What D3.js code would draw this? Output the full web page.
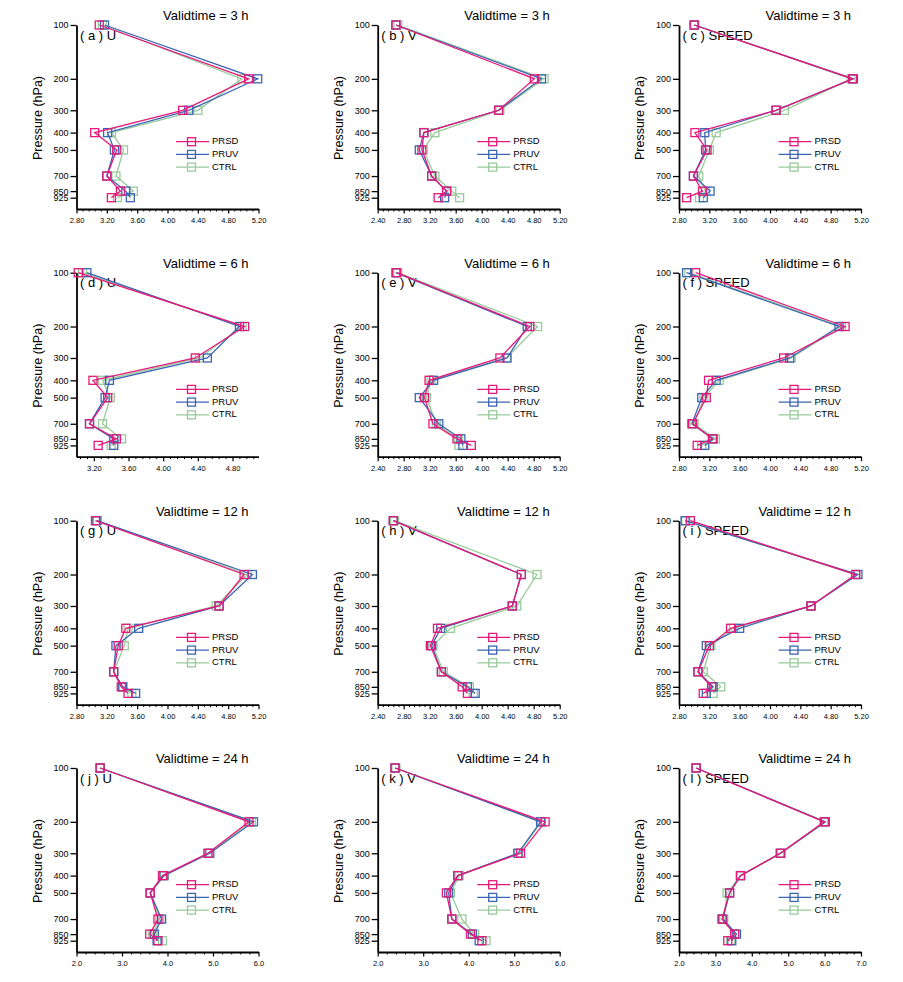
<!DOCTYPE html>
<html>
<head>
<meta charset="utf-8">
<script src="https://cdn.jsdelivr.net/npm/d3@7"></script>
<style>
  body { margin: 0; background: #fff; }
  svg { display: block; }
  text { font-family: "Liberation Sans", Arial, Helvetica, sans-serif; fill: #000; }
</style>
</head>
<body>
<svg id="chart" width="903" height="982"></svg>
<script>
// pressure levels (hPa)
const levels = [100, 200, 300, 400, 500, 700, 850, 925];
const validTimes = [3, 6, 12, 24];
const variables = ["U", "V", "SPEED"];
const letters = ["a", "b", "c", "d", "e", "f", "g", "h", "i", "j", "k", "l"];
const legendNames = ["PRSD", "PRUV", "CTRL"];
const drawOrder = ["CTRL", "PRUV", "PRSD"];
const colors = { PRSD: "#e6197a", PRUV: "#3c65b3", CTRL: "#98cb9a" };

// x tick labels
const ticksA = [2.8, 3.2, 3.6, 4.0, 4.4, 4.8, 5.2];
const ticksB = [2.4, 2.8, 3.2, 3.6, 4.0, 4.4, 4.8, 5.2];
const ticksD = [3.2, 3.6, 4.0, 4.4, 4.8];
const ticksJ = [2, 3, 4, 5, 6];
const ticksL = [2, 3, 4, 5, 6, 7];

// per panel (a..l): axis range, ticks, step between labels
const xDomains = [[2.8, 5.2], [2.4, 5.2], [2.8, 5.2],
                  [3.0, 5.1], [2.4, 5.2], [2.8, 5.2],
                  [2.8, 5.2], [2.4, 5.2], [2.8, 5.2],
                  [2.0, 6.0], [2.0, 6.0], [2.0, 7.0]];
const xTicks = [ticksA, ticksB, ticksA, ticksD, ticksB, ticksA, ticksA, ticksB, ticksA, ticksJ, ticksJ, ticksL];
const tickSteps = [0.4, 0.4, 0.4, 0.4, 0.4, 0.4, 0.4, 0.4, 0.4, 1, 1, 1];

// values at levels 100..925, one object per panel
const U_3h = {
  PRSD: [3.10, 5.07, 4.20, 3.04, 3.33, 3.20, 3.38, 3.26],
  PRUV: [3.17, 5.19, 4.28, 3.21, 3.30, 3.20, 3.45, 3.51],
  CTRL: [3.14, 4.98, 4.40, 3.26, 3.42, 3.32, 3.55, 3.34]
};
const V_3h = {
  PRSD: [2.68, 4.81, 4.26, 3.11, 3.08, 3.23, 3.46, 3.33],
  PRUV: [2.68, 4.92, 4.26, 3.11, 3.04, 3.23, 3.46, 3.43],
  CTRL: [2.71, 4.96, 4.28, 3.28, 3.10, 3.28, 3.54, 3.66]
};
const SPEED_3h = {
  PRSD: [3.00, 5.09, 4.08, 3.01, 3.17, 2.99, 3.11, 2.90],
  PRUV: [3.00, 5.10, 4.08, 3.14, 3.15, 2.99, 3.21, 3.12],
  CTRL: [3.01, 5.07, 4.19, 3.29, 3.20, 3.06, 3.15, 3.07]
};
const U_6h = {
  PRSD: [3.02, 4.94, 4.37, 3.19, 3.36, 3.15, 3.46, 3.25],
  PRUV: [3.12, 4.88, 4.51, 3.38, 3.33, 3.15, 3.43, 3.43],
  CTRL: [3.07, 4.91, 4.42, 3.30, 3.39, 3.30, 3.52, 3.40]
};
const V_6h = {
  PRSD: [2.69, 4.74, 4.28, 3.19, 3.12, 3.25, 3.62, 3.84],
  PRUV: [2.68, 4.70, 4.39, 3.26, 3.04, 3.34, 3.68, 3.71],
  CTRL: [2.71, 4.86, 4.38, 3.22, 3.15, 3.30, 3.64, 3.65]
};
const SPEED_6h = {
  PRSD: [3.02, 4.99, 4.18, 3.19, 3.16, 2.98, 3.24, 3.04],
  PRUV: [2.90, 4.91, 4.26, 3.29, 3.10, 2.97, 3.25, 3.14],
  CTRL: [2.93, 4.94, 4.28, 3.33, 3.13, 3.00, 3.28, 3.10]
};
const U_12h = {
  PRSD: [3.05, 5.01, 4.68, 3.45, 3.35, 3.29, 3.39, 3.48],
  PRUV: [3.07, 5.12, 4.68, 3.62, 3.32, 3.29, 3.41, 3.58],
  CTRL: [3.06, 5.05, 4.64, 3.48, 3.43, 3.29, 3.41, 3.53]
};
const V_12h = {
  PRSD: [2.64, 4.61, 4.47, 3.32, 3.21, 3.38, 3.70, 3.78],
  PRUV: [2.64, 4.61, 4.47, 3.37, 3.23, 3.38, 3.78, 3.90],
  CTRL: [2.66, 4.85, 4.54, 3.52, 3.25, 3.41, 3.81, 3.87]
};
const SPEED_12h = {
  PRSD: [2.95, 5.13, 4.54, 3.48, 3.20, 3.05, 3.23, 3.12],
  PRUV: [2.88, 5.16, 4.54, 3.60, 3.16, 3.05, 3.25, 3.16],
  CTRL: [2.89, 5.13, 4.54, 3.52, 3.22, 3.12, 3.35, 3.25]
};
const U_24h = {
  PRSD: [2.52, 5.79, 4.89, 3.89, 3.62, 3.79, 3.61, 3.79],
  PRUV: [2.52, 5.89, 4.93, 3.92, 3.62, 3.87, 3.71, 3.77],
  CTRL: [2.52, 5.84, 4.89, 3.93, 3.62, 3.83, 3.67, 3.89]
};
const V_24h = {
  PRSD: [2.38, 5.68, 5.14, 3.76, 3.51, 3.63, 4.04, 4.29],
  PRUV: [2.38, 5.58, 5.08, 3.76, 3.56, 3.63, 4.08, 4.23],
  CTRL: [2.40, 5.60, 5.10, 3.79, 3.60, 3.85, 4.13, 4.38]
};
const SPEED_24h = {
  PRSD: [2.47, 5.99, 4.78, 3.69, 3.39, 3.18, 3.53, 3.34],
  PRUV: [2.47, 6.02, 4.79, 3.69, 3.39, 3.20, 3.58, 3.45],
  CTRL: [2.47, 6.01, 4.81, 3.69, 3.32, 3.23, 3.53, 3.42]
};
const panelData = [U_3h, V_3h, SPEED_3h, U_6h, V_6h, SPEED_6h,
                   U_12h, V_12h, SPEED_12h, U_24h, V_24h, SPEED_24h];

// layout
const colLeft = [76.5, 377.7, 679];
const rowTop = [25, 272.7, 520.7, 768];
const W = 182, H = 184;
const M = 8; // marker size

const svg = d3.select("#chart");

panelData.forEach((data, i) => {
  const row = Math.floor(i / 3), col = i % 3;
  const g = svg.append("g").attr("transform", `translate(${colLeft[col]},${rowTop[row]})`);

  const x = d3.scaleLinear().domain(xDomains[i]).range([0, W]);
  const y = d3.scaleLog().domain([100, 1070]).range([0, H]);
  const step = tickSteps[i];
  const fmt = step >= 1 ? d3.format(".1f") : d3.format(".2f");

  // minor ticks: 4 between each label
  const minor = [];
  const t0 = xTicks[i][0];
  for (let k = -20; k <= 100; k++) {
    const v = +(t0 + k * step / 5).toFixed(4);
    if (v >= xDomains[i][0] - 1e-6 && v <= xDomains[i][1] + 1e-6 && k % 5 !== 0) minor.push(v);
  }

  g.append("g")
    .attr("transform", `translate(0,${H})`)
    .call(d3.axisBottom(x).tickValues(minor).tickSize(2.5).tickSizeOuter(0).tickFormat(""))
    .call(a => a.select(".domain").remove())
    .call(a => a.selectAll("line").attr("stroke-width", 1));

  g.append("g")
    .attr("transform", `translate(0,${H})`)
    .call(d3.axisBottom(x).tickValues(xTicks[i]).tickSize(4.5).tickSizeOuter(0).tickFormat(fmt))
    .call(a => a.select(".domain").attr("stroke-width", 1.8))
    .call(a => a.selectAll("line").attr("stroke-width", 1.2))
    .call(a => a.selectAll("text").attr("font-size", 7.5).attr("dy", "0.9em")
      .style("font-family", '"Liberation Sans", Arial, sans-serif'));

  g.append("g")
    .call(d3.axisLeft(y).tickValues(levels).tickSize(6).tickSizeOuter(0).tickFormat(d3.format("d")))
    .call(a => a.select(".domain").attr("stroke-width", 1.8))
    .call(a => a.selectAll("line").attr("stroke-width", 1.3))
    .call(a => a.selectAll("text").attr("font-size", 9).attr("x", -8)
      .style("font-family", '"Liberation Sans", Arial, sans-serif'));

  g.append("text")
    .attr("transform", `translate(-38,${H / 2 + 1}) rotate(-90)`)
    .attr("text-anchor", "middle")
    .attr("dominant-baseline", "middle")
    .attr("font-size", 12.5)
    .text("Pressure (hPa)");

  g.append("text")
    .attr("x", W - 10).attr("y", -4.8)
    .attr("text-anchor", "end")
    .attr("font-size", 13)
    .text(`Validtime = ${validTimes[row]} h`);

  g.append("text")
    .attr("x", 3.5).attr("y", 14.8)
    .attr("font-size", 13)
    .text(`( ${letters[i]} ) ${variables[col]}`);

  const line = d3.line().x(d => x(d[0])).y(d => y(d[1]));

  drawOrder.forEach(name => {
    const pts = data[name].map((v, j) => [v, levels[j]]);
    g.append("path")
      .attr("d", line(pts))
      .attr("fill", "none")
      .attr("stroke", colors[name])
      .attr("stroke-width", 1.3);
    g.selectAll(null).data(pts).enter().append("rect")
      .attr("x", d => x(d[0]) - M / 2).attr("y", d => y(d[1]) - M / 2)
      .attr("width", M).attr("height", M)
      .attr("fill", "none")
      .attr("stroke", colors[name])
      .attr("stroke-width", 1.3);
  });

  // legend
  legendNames.forEach((name, k) => {
    const ly = 116.7 + k * 12.7;
    g.append("line")
      .attr("x1", 99.5).attr("x2", 132.5).attr("y1", ly).attr("y2", ly)
      .attr("stroke", colors[name]).attr("stroke-width", 1.3);
    g.append("rect")
      .attr("x", 115 - M / 2).attr("y", ly - M / 2).attr("width", M).attr("height", M)
      .attr("fill", "none").attr("stroke", colors[name]).attr("stroke-width", 1.3);
    g.append("text")
      .attr("x", 135.5).attr("y", ly)
      .attr("dominant-baseline", "middle")
      .attr("font-size", 9.5)
      .text(name);
  });
});
</script>
</body>
</html>
